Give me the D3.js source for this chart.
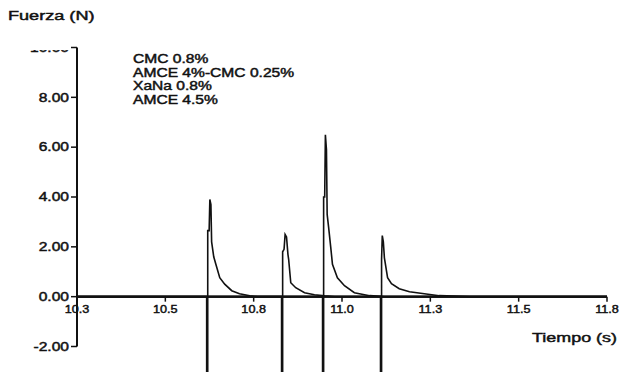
<!DOCTYPE html>
<html><head><meta charset="utf-8">
<script src="https://cdn.jsdelivr.net/npm/d3@7"></script>
<style>html,body{margin:0;padding:0;background:#fff;overflow:hidden}</style>
</head><body>
<svg id="c" width="623" height="372"></svg>
<script>
// ---- data ----
const seriesNames = ["CMC 0.8%", "AMCE 4%-CMC 0.25%", "XaNa 0.8%", "AMCE 4.5%"];
const cmcTime  = [10.3, 10.667, 10.667, 10.670, 10.670, 10.674, 10.676, 10.679, 10.681, 10.687, 10.693, 10.704, 10.718, 10.738, 10.760, 10.789, 10.811, 11.8];
const cmcForce = [0,    0,      -3.4,   -3.4,   2.65,   2.65,   3.9,    3.7,    2.2,    1.6,    1.3,    0.76,   0.5,    0.24,   0.12,   0.04,   0,      0];
const amceCmcTime  = [10.3, 10.879, 10.879, 10.882, 10.882, 10.886, 10.889, 10.893, 10.897, 10.899, 10.905, 10.919, 10.944, 10.972, 11.001, 11.029, 11.8];
const amceCmcForce = [0,    0,      -3.4,   -3.4,   1.8,    1.9,    2.5,    2.4,    1.7,    1.5,    0.56,   0.36,   0.16,   0.08,   0.03,   0,      0];
const xanaTime  = [10.3, 10.995, 10.995, 10.998, 10.998, 11.001, 11.003, 11.006, 11.008, 11.012, 11.018, 11.023, 11.037, 11.057, 11.085, 11.128, 11.170, 11.8];
const xanaForce = [0,    0,      -3.4,   -3.4,   4.0,    4.0,    6.5,    5.9,    3.3,    2.8,    2.0,    1.3,    0.76,   0.44,   0.16,   0.04,   0,      0];
const amceTime  = [10.3, 11.159, 11.159, 11.162, 11.162, 11.164, 11.167, 11.170, 11.179, 11.190, 11.212, 11.241, 11.283, 11.325, 11.410, 11.8];
const amceForce = [0,    0,      -3.4,   -3.4,   1.5,    2.45,   2.2,    1.56,   0.76,   0.52,   0.32,   0.2,    0.12,   0.04,   0,      0];
const xTicks = [10.3, 10.55, 10.8, 11.05, 11.3, 11.55, 11.8];
const xTickLabels = ["10.3", "10.5", "10.8", "11.0", "11.3", "11.5", "11.8"];
const yTicks = [-2, 0, 2, 4, 6, 8, 10];
const yTickLabels = ["-2.00", "0.00", "2.00", "4.00", "6.00", "8.00", "10.00"];
const yTitle = "Fuerza (N)";
const xTitle = "Tiempo (s)";

// ---- drawing ----
const svg = d3.select("#c");
const FONT = "'Liberation Sans', Arial, Helvetica, sans-serif";
const x = d3.scaleLinear().domain([10.3, 11.8]).range([77, 607]);
const y = d3.scaleLinear().domain([-2, 10]).range([346.5, 47.5]);

function stext(g, tx, ty, str, size, sx, anchor) {
  return g.append("text")
    .attr("transform", `translate(${tx},${ty}) scale(${sx},1)`)
    .attr("font-family", FONT).attr("font-size", size)
    .attr("fill", "#111").attr("stroke", "#111").attr("stroke-width", 0.45)
    .attr("text-anchor", anchor || "start")
    .text(str);
}

const series = [
  {t: cmcTime, f: cmcForce},
  {t: amceCmcTime, f: amceCmcForce},
  {t: xanaTime, f: xanaForce},
  {t: amceTime, f: amceForce}
];
const line = d3.line().x(d => x(d[0])).y(d => y(d[1]));
series.forEach(s => {
  const pts = s.t.map((t, i) => [t, s.f[i]]);
  svg.append("path").attr("d", line(pts))
    .attr("fill", "none").attr("stroke", "#111").attr("stroke-width", 1.6)
    .attr("stroke-linejoin", "miter");
});

// y axis
svg.append("defs").append("clipPath").attr("id", "ycl")
  .append("rect").attr("x", 0).attr("y", 50).attr("width", 80).attr("height", 330);
const gy = svg.append("g").attr("clip-path", "url(#ycl)");
svg.append("line").attr("x1", x(10.3)).attr("x2", x(10.3))
  .attr("y1", y(10)).attr("y2", y(-2)).attr("stroke", "#111").attr("stroke-width", 2);
yTicks.forEach((v, i) => {
  svg.append("line").attr("x1", x(10.3) - 6).attr("x2", x(10.3))
    .attr("y1", y(v)).attr("y2", y(v)).attr("stroke", "#111").attr("stroke-width", 1.5);
  stext(gy, x(10.3) - 8, y(v) + 4.3, yTickLabels[i], 12, 1.3, "end");
});

// x axis
svg.append("line").attr("x1", x(10.3)).attr("x2", x(11.8))
  .attr("y1", y(0)).attr("y2", y(0)).attr("stroke", "#111").attr("stroke-width", 2);
xTicks.forEach((v, i) => {
  svg.append("line").attr("x1", x(v)).attr("x2", x(v))
    .attr("y1", y(0)).attr("y2", y(0) + 5).attr("stroke", "#111").attr("stroke-width", 1.5);
  stext(svg, x(v), 313, xTickLabels[i], 11, 1.15, "middle");
});

// titles
stext(svg, 8, 19.5, yTitle, 12.5, 1.45, "start");
stext(svg, 532, 342, xTitle, 13, 1.38, "start");

// legend text
seriesNames.forEach((n, i) => {
  stext(svg, 133, 63 + i * 13.5, n, 12, 1.3, "start");
});
</script>
</body></html>
